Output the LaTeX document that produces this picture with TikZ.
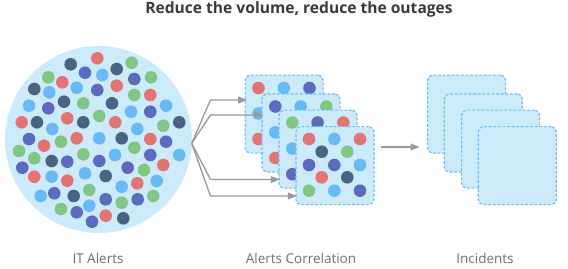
\documentclass[tikz,border=0pt]{standalone}
\usepackage{fontspec}
\setmainfont{Open Sans}
\usetikzlibrary{arrows.meta}
\definecolor{cred}{HTML}{E57373}
\definecolor{cgrn}{HTML}{81C784}
\definecolor{cdb}{HTML}{486482}
\definecolor{cind}{HTML}{5C6BC0}
\definecolor{clb}{HTML}{68BAF7}
\definecolor{bgc}{HTML}{CBEBFB}
\definecolor{edgec}{HTML}{6CBCF5}
\definecolor{arrc}{HTML}{9A9A9A}
\definecolor{titlec}{HTML}{3A3A3A}
\definecolor{labc}{HTML}{6E6E6E}
\newcommand\mydot[3]{\fill[#1] (#2,#3) circle[radius=6.3pt];}
\tikzset{
  card/.style={draw=edgec, fill=bgc, line width=1.2pt, dash pattern=on 2.8pt off 1.8pt,
    rounded corners=5pt, minimum width=78pt, minimum height=78pt, inner sep=0pt, anchor=north west},
  arr/.style={draw=arrc, line width=1.3pt, -{Triangle[length=9pt,width=7pt]}},
  lab/.style={text=labc, font=\fontsize{13.5}{15}\selectfont},
}
\begin{document}
\begin{tikzpicture}[x=1pt,y=-1pt]
\useasboundingbox (0,0) rectangle (568,268);
\node[text=titlec, font=\fontsize{15.6}{18}\selectfont\bfseries] (title) at (299,9.5) {Reduce the volume, reduce the outages};
% IT alerts circle
\node[circle, fill=bgc, minimum size=187pt, inner sep=0pt] (alerts) at (98.5,139.5) {};
\mydot{cred}{97.3}{58.3}
\mydot{cgrn}{131.7}{62.7}
\mydot{cdb}{70.7}{64.3}
\mydot{cdb}{116.7}{69}
\mydot{cind}{85}{72.7}
\mydot{clb}{102.3}{75}
\mydot{cgrn}{48.3}{77.3}
\mydot{cind}{134.3}{79}
\mydot{cgrn}{151}{77.3}
\mydot{cred}{62.3}{82.3}
\mydot{cred}{116.7}{85.7}
\mydot{cdb}{34.3}{89}
\mydot{clb}{76.7}{87.7}
\mydot{cind}{97.3}{90}
\mydot{clb}{49.3}{92.3}
\mydot{cgrn}{134.3}{95}
\mydot{cred}{150.3}{95}
\mydot{cdb}{64}{101.7}
\mydot{cgrn}{83.3}{103.3}
\mydot{cdb}{112}{103.3}
\mydot{clb}{29}{105.7}
\mydot{cind}{48.3}{108.3}
\mydot{clb}{166}{105.7}
\mydot{clb}{131}{111.7}
\mydot{cind}{150.3}{111.7}
\mydot{cgrn}{99.3}{116}
\mydot{cred}{67.3}{118.3}
\mydot{cred}{21.7}{122.3}
\mydot{cdb}{37}{122.3}
\mydot{cdb}{83.3}{122.3}
\mydot{cred}{115.3}{122.3}
\mydot{cdb}{179.3}{122.3}
\mydot{cgrn}{163.3}{125.7}
\mydot{clb}{52.3}{129}
\mydot{clb}{137.3}{129}
\mydot{cind}{29}{139}
\mydot{cred}{76.7}{138.3}
\mydot{clb}{99.3}{138.3}
\mydot{cdb}{121.7}{138.3}
\mydot{cred}{150.3}{139}
\mydot{cind}{166}{141.7}
\mydot{cgrn}{61}{141.7}
\mydot{cred}{44}{145.7}
\mydot{cgrn}{134.3}{147.7}
\mydot{cgrn}{19}{151}
\mydot{cgrn}{83.3}{154.3}
\mydot{clb}{115}{155}
\mydot{cind}{150.3}{155}
\mydot{clb}{179.3}{155}
\mydot{cgrn}{34.3}{158.3}
\mydot{cdb}{51.7}{161}
\mydot{cind}{67.3}{161.7}
\mydot{cind}{99.3}{161}
\mydot{cind}{22.3}{167.7}
\mydot{cind}{127.7}{167.7}
\mydot{cred}{163.3}{165}
\mydot{cgrn}{144}{170}
\mydot{clb}{85}{173.3}
\mydot{cred}{34.3}{176.7}
\mydot{clb}{51.7}{176.7}
\mydot{cdb}{105.7}{176}
\mydot{cred}{67.3}{180.7}
\mydot{cred}{137.3}{183.3}
\mydot{clb}{156.7}{181}
\mydot{clb}{121.7}{186.7}
\mydot{cgrn}{89.3}{190}
\mydot{cind}{54.3}{193.3}
\mydot{clb}{40.7}{196}
\mydot{cdb}{73.7}{196}
\mydot{cind}{105.7}{199.3}
\mydot{cind}{137.7}{199.3}
\mydot{cgrn}{153.3}{196}
\mydot{cgrn}{121.7}{202.7}
\mydot{clb}{89.3}{205.7}
\mydot{cgrn}{61}{209}
\mydot{cind}{76.7}{212.3}
\mydot{cred}{105.7}{215.7}
\mydot{cdb}{123.3}{218.3}
\mydot{cind}{92}{221.7}
% correlation cards
\node[card] (c1) at (244.5,74.5) {};
\mydot{cred}{258.5}{88}\mydot{clb}{283.8}{88}\mydot{cind}{309.5}{88}
\mydot{clb}{258.5}{113.5}\mydot{cred}{258.5}{139}
\node[card] (c2) at (261.3,93.3) {};
\mydot{cind}{275.3}{106.5}\mydot{clb}{300.6}{106.5}\mydot{cgrn}{326.3}{106.5}
\mydot{clb}{275.3}{132.3}\mydot{cred}{275.3}{158}
\node[card] (c3) at (278.3,109.5) {};
\mydot{cgrn}{292.3}{122.5}\mydot{cind}{317.6}{122.5}\mydot{cred}{343.3}{122.5}
\mydot{clb}{292.3}{148.5}\mydot{cind}{292.3}{174.2}
\node[card] (c4) at (295.3,126) {};
\mydot{cred}{309}{139}\mydot{clb}{334.3}{139}\mydot{cred}{360}{139}
\mydot{cdb}{321.7}{151.7}\mydot{cgrn}{347.3}{151.7}
\mydot{cind}{309}{165}\mydot{cind}{334.3}{165}\mydot{clb}{360}{165}
\mydot{cred}{321.7}{177.3}\mydot{cdb}{347.3}{177.3}
\mydot{cgrn}{309}{190.7}\mydot{clb}{334.3}{190.7}\mydot{cind}{360}{190.7}
% incident cards
\node[card] (i1) at (427,74.5) {};
\node[card] (i2) at (443.7,93.3) {};
\node[card] (i3) at (461,109.5) {};
\node[card] (i4) at (477.7,126) {};
% fan arrows
\coordinate (apex) at (191.7,143.3);
\coordinate (k1) at (210.5,100);
\coordinate (k2) at (210.5,115);
\coordinate (k3) at (210.5,179.5);
\coordinate (k4) at (210.5,196);
\draw[arr, line join=round] (apex) -- (k1) -- (k1 -| c1.west) -- ++(2.5,0);
\draw[arr, line join=round] (apex) -- (k2) -- (k2 -| c2.west) -- ++(2,0);
\draw[arr, line join=round] (apex) -- (k3) -- (k3 -| c3.west) -- ++(1.5,0);
\draw[arr, line join=round] (apex) -- (k4) -- (k4 -| c4.west) -- ++(1.5,0);
% middle arrow
\coordinate (m1) at (381,147);
\coordinate (m2) at (419.5,147);
\draw[arr] (m1) -- (m2);
% labels
\node[lab] (l1) at (98,258) {IT Alerts};
\node[lab] (l2) at (301,258) {Alerts Correlation};
\node[lab] (l3) at (485,258) {Incidents};
\end{tikzpicture}
\end{document}
